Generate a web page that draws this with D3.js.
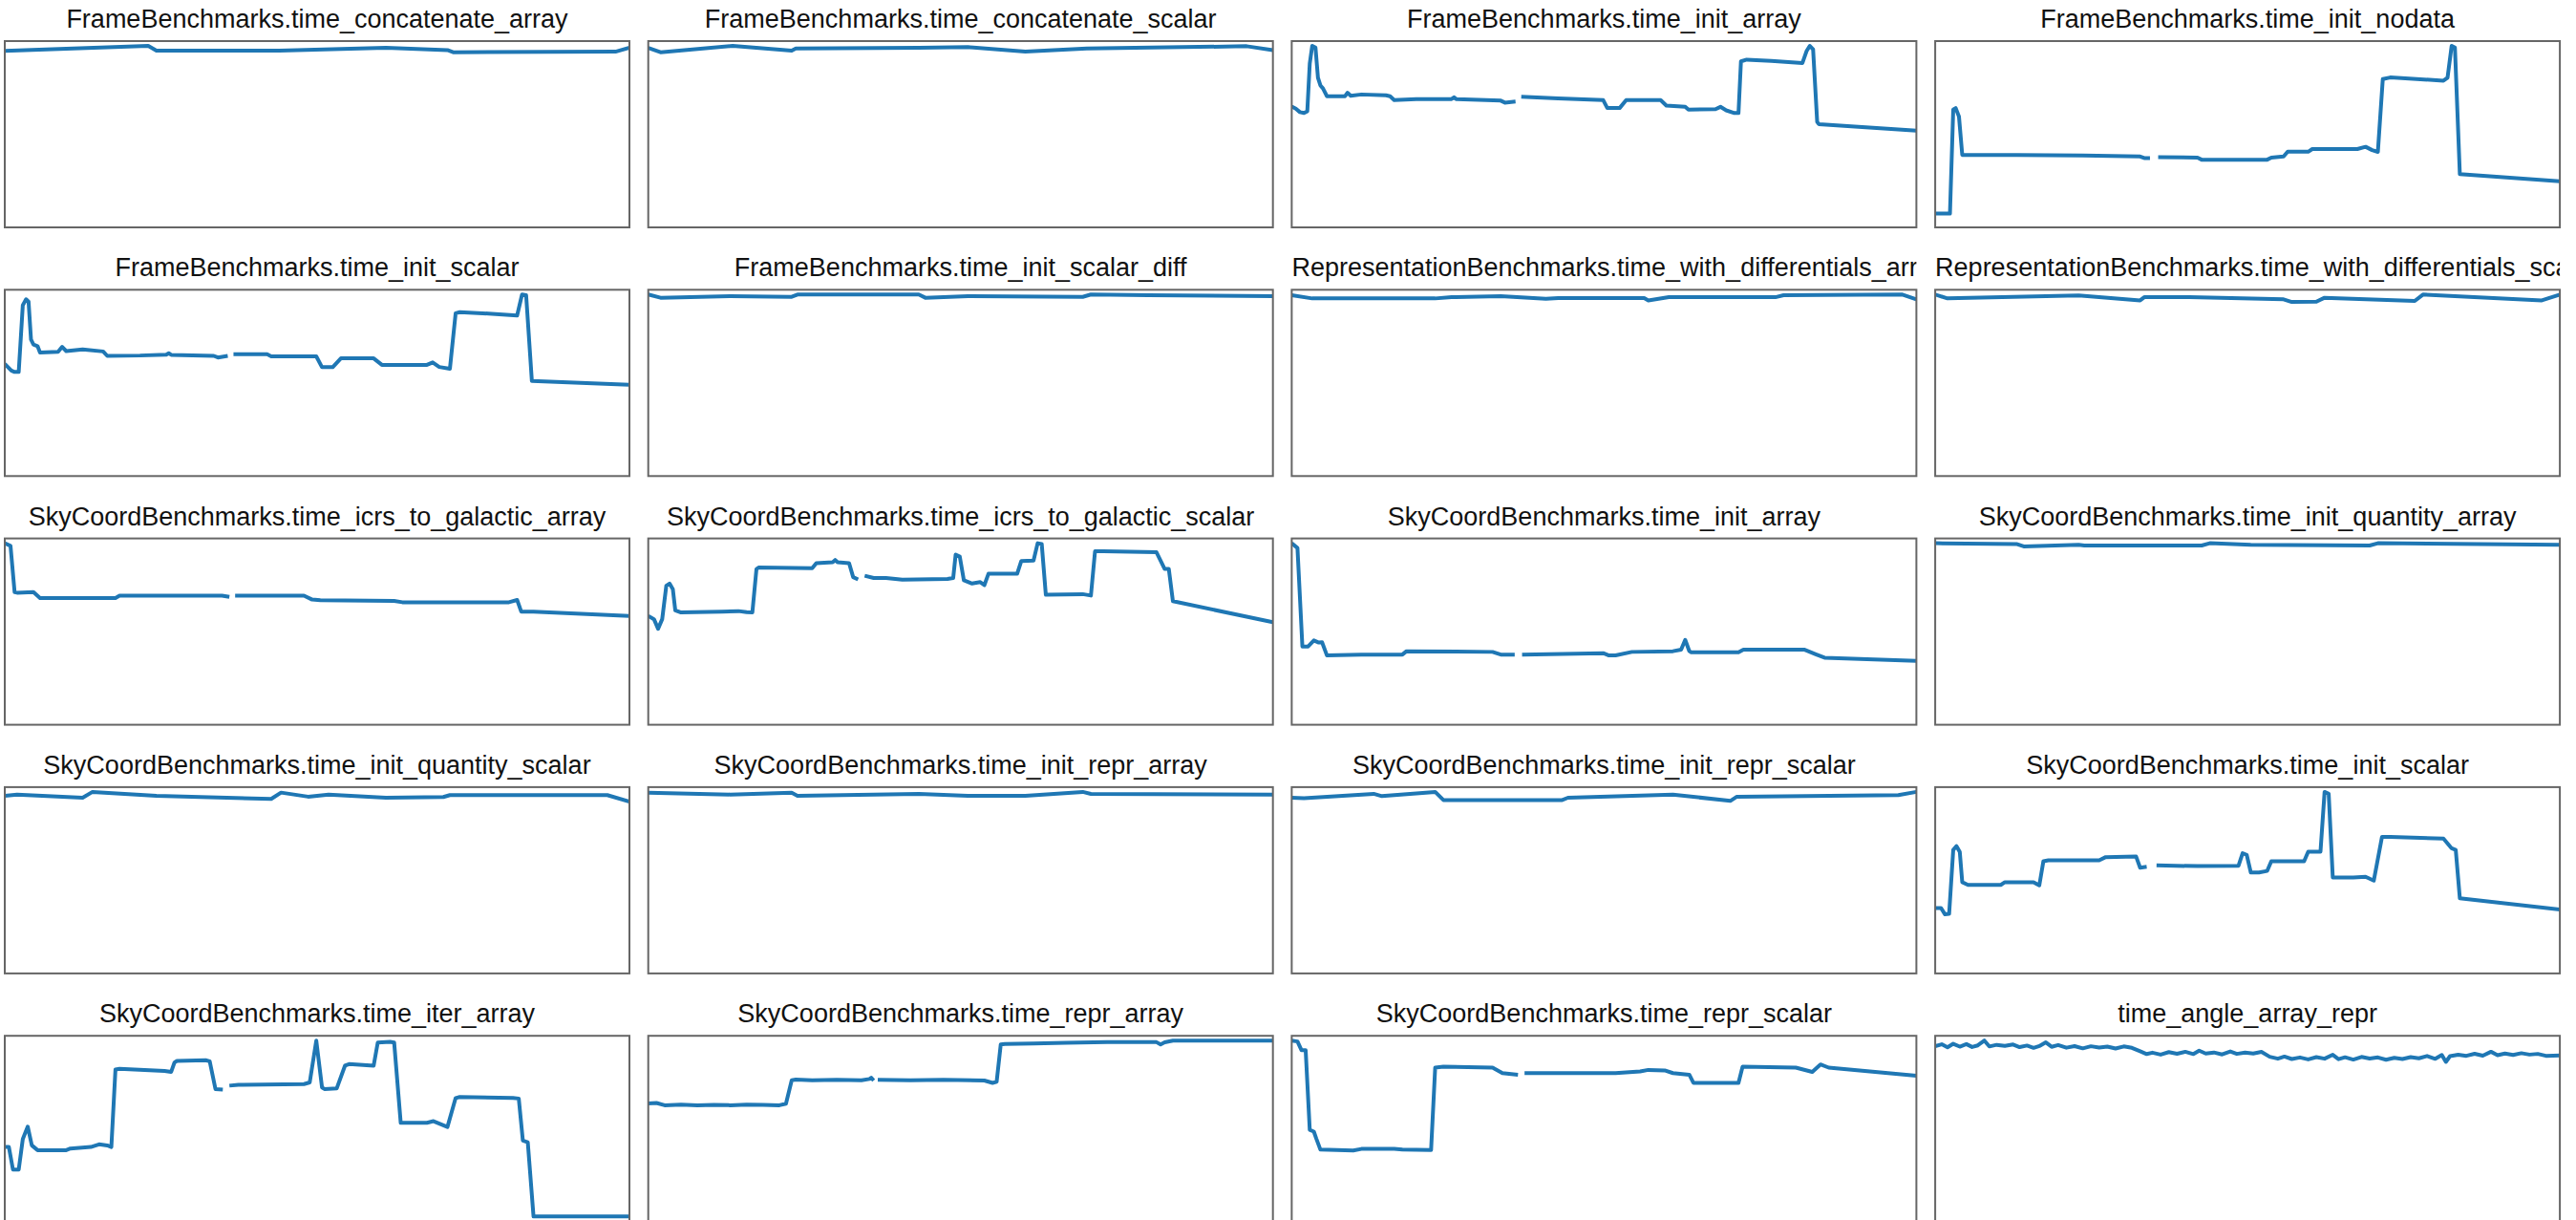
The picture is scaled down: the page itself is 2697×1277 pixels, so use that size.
<!DOCTYPE html>
<html>
<head>
<meta charset="utf-8">
<script src="https://cdnjs.cloudflare.com/ajax/libs/d3/7.8.5/d3.min.js"></script>
<style>
  html, body { margin: 0; padding: 0; background: #fff; }
  svg { display: block; }
  .title { font-family: "Helvetica Neue", Helvetica, Arial, "Liberation Sans", sans-serif; font-size: 27px; fill: #111; }
</style>
</head>
<body>
<svg id="chart" width="2697" height="1277"></svg>
<script>
// Benchmark history, one series per benchmark: [revision, time as % of that benchmark's slowest run].
// null marks revisions with no result (the line breaks there).
const titles = [
  "FrameBenchmarks.time_concatenate_array",
  "FrameBenchmarks.time_concatenate_scalar",
  "FrameBenchmarks.time_init_array",
  "FrameBenchmarks.time_init_nodata",
  "FrameBenchmarks.time_init_scalar",
  "FrameBenchmarks.time_init_scalar_diff",
  "RepresentationBenchmarks.time_with_differentials_array",
  "RepresentationBenchmarks.time_with_differentials_scalar",
  "SkyCoordBenchmarks.time_icrs_to_galactic_array",
  "SkyCoordBenchmarks.time_icrs_to_galactic_scalar",
  "SkyCoordBenchmarks.time_init_array",
  "SkyCoordBenchmarks.time_init_quantity_array",
  "SkyCoordBenchmarks.time_init_quantity_scalar",
  "SkyCoordBenchmarks.time_init_repr_array",
  "SkyCoordBenchmarks.time_init_repr_scalar",
  "SkyCoordBenchmarks.time_init_scalar",
  "SkyCoordBenchmarks.time_iter_array",
  "SkyCoordBenchmarks.time_repr_array",
  "SkyCoordBenchmarks.time_repr_scalar",
  "time_angle_array_repr"
];

const frameConcatArray = [[0,97.1],[175,100],[185,97.3],[335,97.3],[465,98.9],[540,97.6],[547,96.4],[745,96.7],[762,98.9]];

const frameConcatScalar = [[0,98.9],[15,96.4],[103,100],[175,97.3],[180,98.5],[330,98.9],[390,99.3],[460,96.7],[535,98.5],[730,99.8],[762,97.6]];

const frameInitArray = [[0,65.7],[5,64.5],[10,62.5],[15,62],[19,63],[22,90],[25,100],[29,99],[32,82],[35,77.6],[38,76],[43,71.5],
  [65,71.5],[68,73.5],[72,71.8],[85,72.5],[115,72],[120,71.5],[125,69.3],[152,69.8],[195,69.9],[198,70.9],[201,69.8],
  [255,69],[260,67.9],[273,68.5],[276,null],[280,71.2],[325,70.3],[380,69.3],[385,64.8],[400,64.8],[408,69.3],[450,69.3],
  [457,66.2],[480,65.5],[484,63.9],[517,64.2],[523,65.5],[530,63.5],[540,62],[545,62],[548,91.2],[555,92.2],[585,91.5],
  [623,90.3],[628,97],[632,100],[636,98],[641,57],[643,55.7],[762,52]];

const frameInitNodata = [[0,5.1],[18,5.1],[22,63.9],[25,64.8],[29,60],[33,38.3],[100,38.3],[180,38],[250,37.4],[255,36.5],
  [262,36.5],[266,null],[272,37],[320,36.8],[325,35.6],[405,35.6],[410,36.8],[425,37.4],[430,40.1],[455,40.1],[460,41.6],
  [515,41.6],[525,42.9],[533,41],[540,40],[546,81.2],[555,82.1],[620,80.3],[625,82],[630,100],[634,99],[640,27.4],[762,23.4]];

const frameInitScalar = [[0,60.8],[8,57],[12,56.2],[17,56.2],[22,94],[26,97.3],[29,96],[32,74.5],[35,71.7],[40,70.8],[43,67.2],
  [65,67.6],[70,70.4],[75,68],[95,69],[120,67.8],[125,65.3],[165,65.5],[197,66],[200,66.8],[203,65.9],[255,65.3],[260,64.4],
  [272,65.3],[275,null],[279,66.2],[320,66.2],[325,65],[380,65],[387,58.9],[400,58.9],[410,63.9],[450,63.9],[460,60.2],
  [515,60.2],[522,61.6],[530,59],[543,58],[550,89.4],[555,90],[590,89.2],[625,88.1],[631,100],[636,99.6],[643,51.1],[762,48.9]];

const frameInitScalarDiff = [[0,100],[15,98.2],[100,99.1],[175,98.7],[182,100],[330,100],[338,98.2],[390,99.1],[530,98.7],[540,100],[610,99.6],[762,99.1]];

const reprDiffArray = [[0,99.6],[25,97.8],[175,97.8],[195,98.5],[255,99.1],[310,97.6],[325,98],[430,98],[435,96.7],[460,98.5],[590,98.5],[600,99.6],[745,100],[762,97.3]];

const reprDiffScalar = [[0,100],[15,97.8],[175,99.5],[250,96.7],[255,98.5],[310,98.5],[425,97.3],[435,95.8],[465,96],[475,98.2],[585,96.4],[595,100],[740,96.7],[762,100]];

const icrsGalArray = [[0,100],[7,98.5],[12,72.3],[15,72],[35,72.3],[43,69],[135,69],[140,70.3],[265,70.3],[274,69.6],[277,null],
  [281,70.3],[365,70.3],[375,68.1],[385,67.8],[475,67.3],[485,66.6],[615,66.6],[625,67.9],[630,61.3],[645,61.3],[762,58.9]];

const icrsGalScalar = [[0,58.9],[7,57],[12,51.6],[17,57],[22,75.9],[26,77.2],[30,74],[33,62],[40,60.8],[90,61.3],[110,61.6],
  [120,61],[127,60.8],[132,85.4],[135,86.3],[200,85.8],[205,88.7],[225,89.3],[228,90.5],[231,89.2],[245,88.7],[250,80.8],
  [256,79.5],[260,null],[264,81.6],[275,80.3],[290,80.3],[310,79.4],[365,79.8],[372,80.3],[375,93.6],[380,92.5],[385,79],
  [395,77.2],[405,78],[410,76.3],[415,82.7],[450,82.7],[455,89.9],[470,90.2],[475,100],[480,99.5],[485,70.8],[530,71.2],
  [540,70.4],[545,95.4],[555,95.4],[620,94.9],[630,85.4],[635,85.4],[640,67.2],[762,55.3]];

const skyInitArray = [[0,100],[7,97.3],[13,41.6],[20,41.6],[27,45],[33,43.8],[37,44],[43,36.5],[85,37],[135,37],[140,38.9],
  [245,38.5],[255,37],[272,37],[276,null],[281,37],[380,37.8],[387,36.5],[395,36.5],[415,38.5],[465,38.9],[475,39.8],
  [480,45.3],[485,39],[487,38.3],[545,38.3],[551,39.8],[625,39.8],[640,37],[650,35.2],[762,33.4]];

const skyInitQtyArray = [[0,100],[100,99.5],[108,98.2],[175,99.1],[182,98.7],[325,98.7],[335,100],[385,99.1],[530,98.7],[540,100],[762,99.1]];

const skyInitQtyScalar = [[0,97.8],[15,98.5],[95,96.7],[107,100],[185,97.8],[325,96],[337,99.6],[370,97.3],[395,98.5],[465,96.7],[535,97.1],[543,98.2],[735,98.2],[762,94.5]];

const skyInitReprArray = [[0,99.6],[100,98.5],[175,99.5],[182,97.8],[330,98.9],[390,97.8],[460,97.8],[530,100],[540,98.9],[762,98.5]];

const skyInitReprScalar = [[0,96.7],[15,96.4],[100,98.9],[110,97.6],[175,100],[185,95.4],[330,95.4],[337,96.7],[465,98.5],[535,94.9],[543,97.3],[740,98.2],[762,100]];

const skyInitScalar = [[0,34.3],[7,34.3],[12,30.7],[17,31],[22,67.2],[26,69.3],[30,66],[33,48.9],[40,47.4],[80,47.4],[85,48.9],
  [120,48.9],[127,47.1],[132,60.8],[138,61.3],[200,61.3],[208,63.1],[245,63.5],[250,57.1],[258,57.6],[263,null],[270,58.4],
  [320,58],[370,58.2],[375,65.3],[380,64.4],[385,54.4],[395,54.4],[405,55.3],[410,60.8],[450,60.8],[455,66.2],[470,66.2],
  [475,100],[480,99],[485,51.6],[510,51.6],[525,52],[535,49.8],[545,74.5],[555,74.5],[620,73.6],[630,68.1],[635,67.2],
  [640,39.8],[762,33.4]];

const skyIterArray = [[0,39.8],[5,39.8],[10,27],[17,27],[22,44.3],[28,51.3],[33,40.7],[40,38],[75,38],[80,38.9],[105,39.8],
  [115,41.3],[125,40.7],[130,39.8],[135,83.6],[140,84],[195,82.8],[203,82.3],[207,87.6],[210,88.5],[245,88.9],[250,88.3],
  [257,72.6],[266,72.3],[270,null],[274,74.5],[285,75],[365,75.4],[372,76.3],[380,100],[387,73.5],[390,72.6],[405,73],
  [415,85.8],[420,86.7],[450,85.8],[455,98.9],[470,99.3],[475,98.9],[483,53.5],[515,53.5],[523,54.4],[540,51.1],[550,67.5],
  [555,68.1],[620,67.5],[627,67.2],[632,43.4],[638,42.5],[645,0.5],[762,0.5]];

const skyReprArray = [[0,64.1],[10,64.4],[20,63.1],[40,63.5],[60,63.1],[80,63.3],[100,63.1],[120,63.5],[140,63.3],[160,63.1],
  [168,64],[175,77.2],[180,77.6],[200,77.2],[230,77.4],[260,77.2],[270,77.9],[272,78.6],[275,77],[277,null],[280,77.4],
  [320,77.2],[360,77.4],[410,77],[420,75.7],[425,76.3],[430,97.3],[435,97.6],[470,97.8],[510,98.2],[560,98.6],[620,98.6],
  [625,97.3],[630,98.5],[640,99.5],[762,99.5]];

const skyReprScalar = [[0,100],[7,99.5],[12,94.5],[17,94.5],[22,49.5],[27,48.5],[30,44.5],[35,38.3],[75,37.8],[85,38.7],
  [125,38.7],[135,38.3],[170,38.1],[175,84.7],[185,85.2],[245,84.7],[257,81.6],[276,80.7],[280,null],[284,81.6],[395,81.6],
  [425,82.5],[435,83.4],[455,83.1],[465,81.6],[485,80.7],[490,76.1],[545,76.1],[550,85.2],[615,84.7],[635,82.3],[645,86.5],
  [655,84.7],[762,80.1]];

const angleArrayRepr = [[0,96.4],[8,97.5],[15,95.8],[22,97.8],[30,96.2],[38,97.6],[45,96],[52,96.9],[60,99.6],[66,96.3],
  [75,97.2],[85,96.6],[95,97.4],[103,95.9],[112,96.8],[120,95.5],[128,96.7],[135,98.6],[142,96.1],[150,97.1],[160,95.6],
  [170,96.5],[180,95.2],[190,96.4],[200,95.7],[210,96.2],[220,95.1],[230,96.3],[240,95.5],[250,93.6],[258,92],[265,92.8],
  [275,91.7],[285,93.1],[295,92.2],[305,93.3],[315,92],[322,93.9],[330,92.3],[340,92.9],[350,91.8],[360,93.5],[368,92.1],
  [378,92.8],[388,92.3],[398,93.2],[408,90.5],[418,89.4],[426,90.6],[435,89.2],[445,90.1],[455,89],[465,90.3],[475,89.4],
  [485,91.6],[492,89.1],[500,90.2],[510,88.9],[520,90.4],[530,89.5],[540,90.1],[550,88.8],[560,89.9],[570,89.2],[580,90.3],
  [590,89.6],[600,90.9],[610,89.3],[618,91.5],[623,87.6],[628,90.8],[638,91.6],[648,91],[658,92.2],[668,91.1],[678,93.3],
  [686,91.4],[695,92.3],[705,91.5],[715,92.5],[725,91.7],[735,92.1],[745,91],[762,91.2]];

const seriesList = [
  frameConcatArray, frameConcatScalar, frameInitArray, frameInitNodata,
  frameInitScalar, frameInitScalarDiff, reprDiffArray, reprDiffScalar,
  icrsGalArray, icrsGalScalar, skyInitArray, skyInitQtyArray,
  skyInitQtyScalar, skyInitReprArray, skyInitReprScalar, skyInitScalar,
  skyIterArray, skyReprArray, skyReprScalar, angleArrayRepr
];

// Small-multiple grid
const nCols = 4;
const boxW = 654, boxH = 195;
const colStep = 673.7, rowStep = 260.3;
const gridLeft = 5, gridTop = 43;
const pad = 5;

const svg = d3.select("#chart");
const defs = svg.append("defs");

seriesList.forEach((data, i) => {
  const col = i % nCols, row = Math.floor(i / nCols);
  const x0 = gridLeft + col * colStep;
  const y0 = gridTop + row * rowStep;

  const g = svg.append("g").attr("transform", `translate(${x0},${y0})`);

  const clipId = "clip-" + i, tclipId = "tclip-" + i;
  defs.append("clipPath").attr("id", clipId)
    .append("rect").attr("x", 0).attr("y", 0).attr("width", boxW).attr("height", boxH);
  defs.append("clipPath").attr("id", tclipId)
    .append("rect").attr("x", 0).attr("y", -45).attr("width", boxW).attr("height", 45);

  const x = d3.scaleLinear()
    .domain(d3.extent(data, d => d[0]))
    .range([0, boxW]);
  const y = d3.scaleLinear()
    .domain([0, d3.max(data, d => d[1])])
    .range([boxH - pad, pad]);

  const line = d3.line()
    .defined(d => d[1] != null)
    .x(d => x(d[0]))
    .y(d => y(d[1]));

  g.append("path")
    .datum(data)
    .attr("clip-path", `url(#${clipId})`)
    .attr("fill", "none")
    .attr("stroke", "#1f77b4")
    .attr("stroke-width", 4)
    .attr("stroke-linejoin", "round")
    .attr("d", line);

  g.append("rect")
    .attr("x", 0).attr("y", 0)
    .attr("width", boxW).attr("height", boxH)
    .attr("fill", "none")
    .attr("stroke", "#666")
    .attr("stroke-width", 2);

  // Title centred above the box; long names start at the left edge and are cut at the right edge
  const t = g.append("text")
    .attr("class", "title")
    .attr("clip-path", `url(#${tclipId})`)
    .attr("y", -14)
    .text(titles[i]);
  const tw = t.node().getComputedTextLength();
  if (tw > boxW) {
    t.attr("x", 0).attr("text-anchor", "start");
  } else {
    t.attr("x", boxW / 2).attr("text-anchor", "middle");
  }
});
</script>
</body>
</html>
